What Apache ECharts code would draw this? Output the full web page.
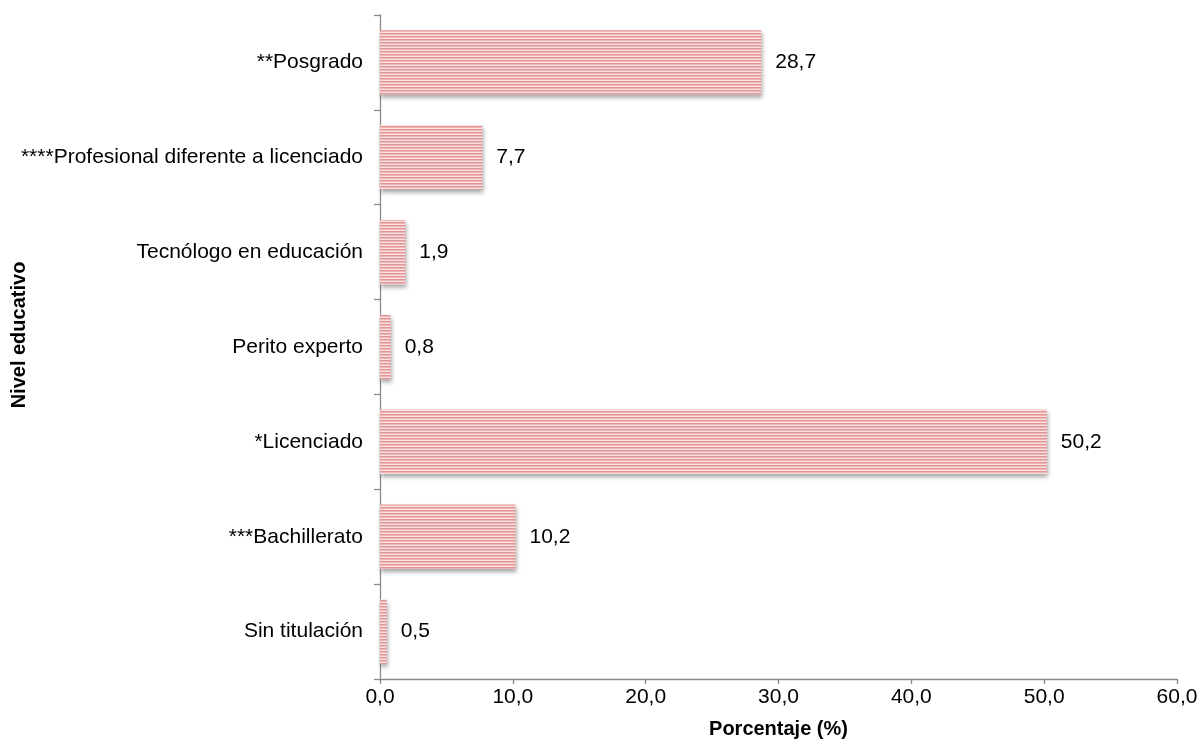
<!DOCTYPE html>
<html><head><meta charset="utf-8">
<script src="https://cdn.jsdelivr.net/npm/echarts@6/dist/echarts.min.js"></script>
<style>html,body{margin:0;padding:0;background:#fff}#c{width:1199px;height:744px}</style>
</head><body><div id="c"></div>
<script>
const categories = ["Sin titulación", "***Bachillerato", "*Licenciado", "Perito experto", "Tecnólogo en educación", "****Profesional diferente a licenciado", "**Posgrado"];
const values = [0.5, 10.2, 50.2, 0.8, 1.9, 7.7, 28.7];
const xTicks = [0, 10, 20, 30, 40, 50, 60];
const yTitle = 'Nivel educativo';
const xTitle = 'Porcentaje (%)';

const pc = document.createElement('canvas');
pc.width = 4; pc.height = 3;
const g = pc.getContext('2d');
g.fillStyle = '#fae2e2'; g.fillRect(0, 0, 4, 3);
g.fillStyle = '#e39595'; g.fillRect(0, 0, 4, 1);
g.fillStyle = '#eeb6b6'; g.fillRect(0, 1, 4, 1);

const chart = echarts.init(document.getElementById('c'));
const fmt = v => v.toFixed(1).replace('.', ',');
chart.setOption({
  animation: false,
  grid: {left: 380, right: 22, top: 15, bottom: 65, containLabel: false, outerBoundsMode: 'none'},
  graphic: [{
    type: 'text', x: 19, y: 335, rotation: Math.PI / 2,
    style: {text: yTitle, fontFamily: 'Liberation Sans', fontSize: 20, fontWeight: 'bold', fill: '#000', align: 'center', verticalAlign: 'middle'}
  }],
  xAxis: {
    type: 'value', min: xTicks[0], max: xTicks[xTicks.length - 1], interval: 10,
    name: xTitle, nameLocation: 'middle', nameGap: 40,
    nameTextStyle: {fontFamily: 'Liberation Sans', fontSize: 20, fontWeight: 'bold', color: '#000'},
    axisLine: {show: true, lineStyle: {color: '#8a8a8a', width: 1.3}},
    axisTick: {show: true, length: 5, lineStyle: {color: '#8a8a8a', width: 1.3}},
    axisLabel: {formatter: v => fmt(v), fontFamily: 'Liberation Sans', fontSize: 21, color: '#000', margin: 8},
    splitLine: {show: false}
  },
  yAxis: {
    type: 'category', data: categories,
    axisLine: {show: true, lineStyle: {color: '#8a8a8a', width: 1.3}},
    axisTick: {show: true, length: 6, lineStyle: {color: '#8a8a8a', width: 1.3}},
    axisLabel: {fontFamily: 'Liberation Sans', fontSize: 21, color: '#000', margin: 17}
  },
  series: [{
    type: 'bar', data: values, barCategoryGap: '32%',
    itemStyle: {color: {image: pc, repeat: 'repeat'}, shadowColor: 'rgba(0,0,0,0.35)', shadowBlur: 4, shadowOffsetX: 1, shadowOffsetY: 3},
    label: {show: true, position: 'right', distance: 14, formatter: p => fmt(p.value), fontFamily: 'Liberation Sans', fontSize: 21, color: '#000'}
  }]
});
</script></body></html>
